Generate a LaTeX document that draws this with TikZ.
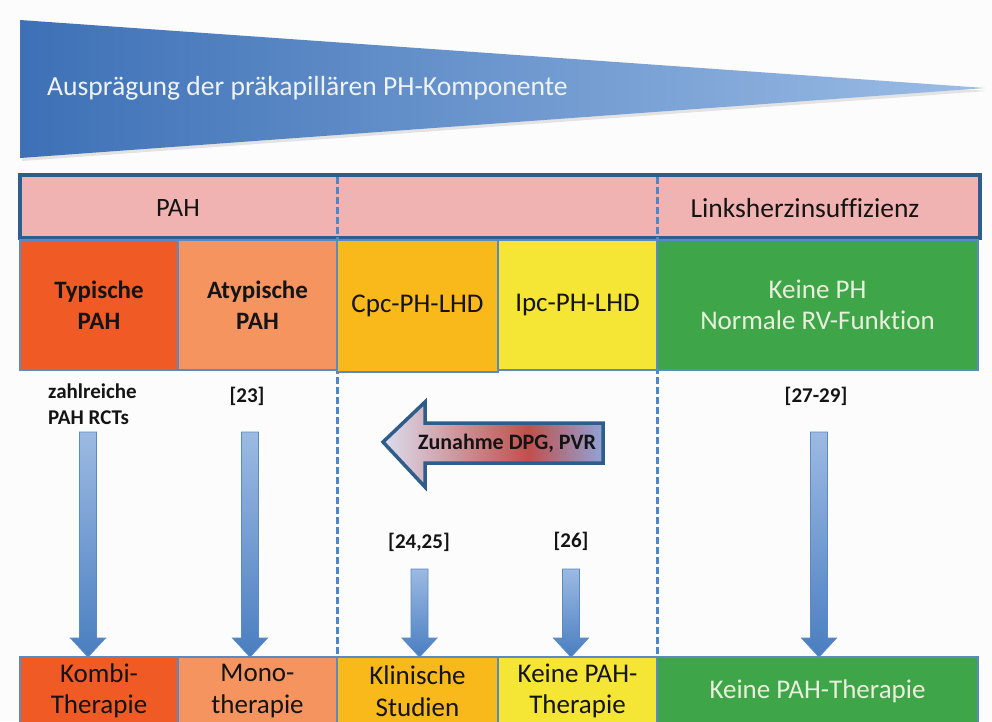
\documentclass[tikz,border=0pt]{standalone}
\usepackage{fontspec}
\setmainfont{Carlito}[Ligatures={NoCommon}]
\usetikzlibrary{calc,shadows}
\definecolor{wedgeL}{HTML}{3D70B6}
\definecolor{wedgeR}{HTML}{9CBDE6}
\definecolor{wedgetext}{HTML}{EEF3FA}
\definecolor{hdrpink}{HTML}{F0B3B1}
\definecolor{hdrline}{HTML}{2C5E8E}
\definecolor{boxline}{HTML}{5A8AC6}
\definecolor{sepblue}{HTML}{4F86C6}
\definecolor{cTyp}{HTML}{F05A24}
\definecolor{cAty}{HTML}{F69460}
\definecolor{cCpc}{HTML}{F9B91B}
\definecolor{cIpc}{HTML}{F5E535}
\definecolor{cGreen}{HTML}{3EA548}
\definecolor{greentext}{HTML}{E8EFDC}
\definecolor{arrTop}{HTML}{9CBAE2}
\definecolor{arrBot}{HTML}{4A7EC0}
\definecolor{zLav}{HTML}{DCDDEE}
\definecolor{zRed}{HTML}{C0504D}
\definecolor{zBlue}{HTML}{8FA4D8}
\definecolor{zLine}{HTML}{2F5D8A}
\definecolor{ink}{HTML}{141414}
\pgfdeclarehorizontalshading{zunshade}{100bp}{color(0bp)=(zLav); color(25bp)=(zLav); color(58bp)=(zRed); color(75bp)=(zBlue); color(100bp)=(zBlue)}
\newcommand\blockdown[2]{%
  \shade[top color=arrTop,bottom color=arrBot,draw=boxline,line width=0.8pt,line join=miter]
    let \p1=(#1), \p2=(#2) in
    (\x1-8.5pt,\y1) -- (\x1+8.5pt,\y1) -- (\x1+8.5pt,\y2+19pt) -- (\x1+17.5pt,\y2+19pt)
    -- (\x2,\y2) -- (\x1-17.5pt,\y2+19pt) -- (\x1-8.5pt,\y2+19pt) -- cycle;}
\tikzset{
  cell/.style={rectangle,draw=boxline,line width=1.2pt,inner sep=2pt,align=center,
    text=ink,font=\fontsize{27}{31.5}\selectfont},
  cellbold/.style={cell,font=\bfseries\fontsize{25}{31.5}\selectfont},
  reflabel/.style={text=ink,font=\bfseries\fontsize{21}{26}\selectfont,inner sep=0pt,align=left},
  sepline/.style={draw=sepblue,line width=3pt,dash pattern=on 7pt off 3pt},
}
\begin{document}
\begin{tikzpicture}[x=1pt,y=-1pt]
\useasboundingbox (0,0) rectangle (992,721);
\clip (0,0) rectangle (992,721);
\fill[white!98!gray] (0,0) rectangle (992,721);
% wedge
\shade[left color=wedgeL,right color=wedgeR,drop shadow={shadow xshift=2pt,shadow yshift=-3pt,opacity=0.2}]
  (20,20) -- (985,88) -- (20,158) -- cycle;
\node[anchor=west,text=wedgetext,font=\fontsize{27.6}{30}\selectfont,inner sep=0pt] (wedgetxt) at (47,88)
  {Ausprägung der präkapillären PH-Komponente};
% header
\node[rectangle,fill=hdrpink,draw=hdrline,line width=3.5pt,minimum width=960pt,minimum height=63pt,inner sep=0pt]
  (hdr) at (500,206.5) {};
\node[text=ink,font=\fontsize{26.5}{30}\selectfont] (hPAH) at (178,208) {PAH};
\node[text=ink,font=\fontsize{27.5}{30}\selectfont] (hLHI) at (805,208) {Linksherzinsuffizienz};
% separators
\coordinate (s1top) at (337,177);
\coordinate (s1bot) at (337,657);
\coordinate (s2top) at (657,177);
\coordinate (s2bot) at (657,657);
\draw[sepline] (s1top) -- (s1bot);
\draw[sepline] (s2top) -- (s2bot);
% row 2
\node[cellbold,fill=cTyp,minimum width=158pt,minimum height=130pt] (typ) at (99,305) {Typische\\PAH};
\node[cellbold,fill=cAty,minimum width=159pt,minimum height=130pt] (aty) at (257.5,305) {Atypische\\PAH};
\node[cell,fill=cCpc,minimum width=161pt,minimum height=132pt] (cpc) at (417.5,306) {Cpc-PH-LHD};
\node[cell,fill=cIpc,minimum width=159pt,minimum height=130pt] (ipc) at (577.5,305) {Ipc-PH-LHD};
\node[cell,fill=cGreen,text=greentext,minimum width=321pt,minimum height=130pt] (kph) at (817.5,305) {Keine PH\\Normale RV-Funktion};
% bottom row
\node[cell,fill=cTyp,minimum width=158pt,minimum height=68pt] (kombi) at (99,691) {Kombi-\\Therapie};
\node[cell,fill=cAty,minimum width=159pt,minimum height=68pt] (mono) at (257.5,691) {Mono-\\therapie};
\node[cell,fill=cCpc,minimum width=161pt,minimum height=68pt] (klin) at (417.5,691) {Klinische\\Studien};
\node[cell,fill=cIpc,minimum width=159pt,minimum height=68pt] (kpah) at (577.5,691) {Keine PAH-\\Therapie};
\node[cell,fill=cGreen,text=greentext,minimum width=321pt,minimum height=68pt] (kpah2) at (817.5,691) {Keine PAH-Therapie};
% labels
\node[reflabel,anchor=west] (l1) at (48,404) {zahlreiche\\PAH RCTs};
\node[reflabel] (l2) at (247,396) {[23]};
\node[reflabel] (l3) at (419,542) {[24,25]};
\node[reflabel] (l4) at (571,541) {[26]};
\node[reflabel] (l5) at (816,396) {[27-29]};
% arrows
\coordinate (a1) at (88,432);   \coordinate (b1) at (88,657);
\coordinate (a2) at (250,432);  \coordinate (b2) at (250,657);
\coordinate (a3) at (419.5,569);\coordinate (b3) at (419.5,657);
\coordinate (a4) at (571,569);  \coordinate (b4) at (571,657);
\coordinate (a5) at (819,432);  \coordinate (b5) at (819,657);
\blockdown{a1}{b1}
\blockdown{a2}{b2}
\blockdown{a3}{b3}
\blockdown{a4}{b4}
\blockdown{a5}{b5}
% Zunahme arrow
\path[shading=zunshade,draw=zLine,line width=3.5pt,line join=miter]
  (383,442) -- (425,402) -- (425,423) -- (603,423) -- (603,463) -- (425,463) -- (425,487) -- cycle;
\node[text=ink,font=\bfseries\fontsize{22}{25}\selectfont,inner sep=0pt] (zun) at (507,443) {Zunahme DPG, PVR};
\end{tikzpicture}
\end{document}
